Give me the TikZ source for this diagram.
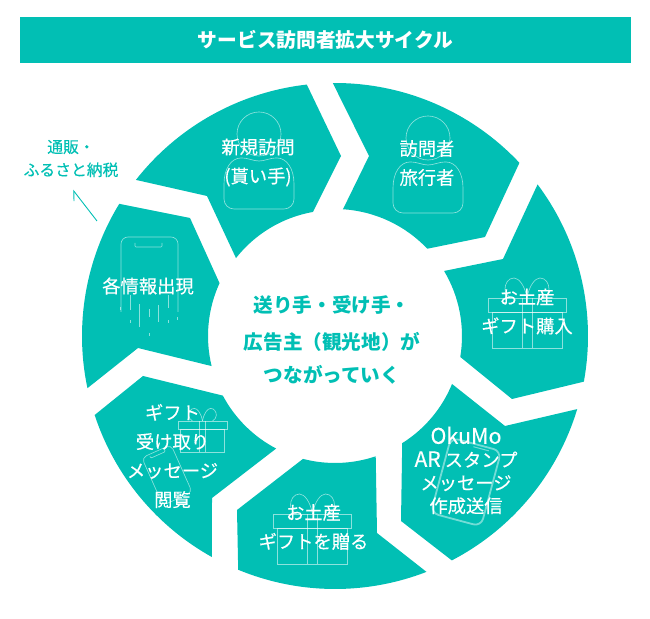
\documentclass[tikz,border=0pt]{standalone}
\usepackage{fontspec}
\usepackage{tikz}
\usetikzlibrary{arrows.meta}
\newfontfamily\jp{Noto Sans CJK JP}
\newfontfamily\jpmed[FakeBold=0.3]{Noto Sans CJK JP}
\definecolor{cycleteal}{HTML}{01BFB4}
\tikzset{
  x=1pt, y=1pt,
  seg/.style={fill=cycleteal, draw=none},
  icon/.style={draw=white, draw opacity=0.55, line width=0.65pt, fill=none},
  thickicon/.style={draw=cycleteal!55!white, line width=1.8pt, fill=none},
  seglabel/.style={text=white, align=center, inner sep=0pt, font=\jpmed\fontsize{18.3}{29}\selectfont},
  seglabeltight/.style={seglabel, font=\jpmed\fontsize{18.3}{23}\selectfont},
  centerlabel/.style={text=cycleteal, align=center, inner sep=0pt, font=\jp\bfseries\fontsize{19.6}{35}\selectfont},
  sidelabel/.style={text=cycleteal, align=center, inner sep=0pt, font=\jpmed\fontsize{15.8}{23}\selectfont},
  person/.pic={
    \draw[icon] (0,0) circle (22pt);
    \draw[icon] (-35,-65) -- (-35,-50) .. controls (-35,-35) and (-28,-24) .. (-18,-24)
      .. controls (-10,-24) and (-6,-27) .. (0,-27)
      .. controls (6,-27) and (10,-24) .. (18,-24)
      .. controls (28,-24) and (35,-35) .. (35,-50) -- (35,-65)
      arc[start angle=0, end angle=-90, radius=10pt] -- (-25,-75)
      arc[start angle=-90, end angle=-180, radius=10pt];
  },
  gift/.pic={
    \draw[icon] (-39,-14) rectangle (39,0);
    \draw[icon] (-35,-14) rectangle (35,-50);
    \draw[icon] (-5,0) -- (-5,-50) (5,0) -- (5,-50);
    \draw[icon] (0,0) .. controls (-2,12) and (-8,20) .. (-13,20)
      .. controls (-19,20) and (-22,14) .. (-22,9) .. controls (-22,5) and (-19,2) .. (-16,0);
    \draw[icon] (0,0) .. controls (2,12) and (8,20) .. (13,20)
      .. controls (19,20) and (22,14) .. (22,9) .. controls (22,5) and (19,2) .. (16,0);
  },
  phone/.pic={
    \draw[icon, rounded corners=5pt] (-16,-26) rectangle (16,26);
    \draw[icon, rounded corners=1pt] (-8,24) -- (-8,22) -- (8,22) -- (8,24);
  },
}

\begin{document}
\begin{tikzpicture}
  \useasboundingbox (0,0) rectangle (650,618);

  % header
  \node[fill=cycleteal, minimum width=611pt, minimum height=46pt, inner sep=0pt,
        text=white, font=\jp\bfseries\fontsize{19.7}{24}\selectfont]
    (title) at (325.5,578) {サービス訪問者拡大サイクル};

  % ring, coordinates from the circle centre
  \begin{scope}[shift={(335,282)}]
    \fill[seg] (141.9:253pt) arc[start angle=141.9, end angle=96.4, radius=253pt]
      -- (6,180) -- (100.1:126pt) arc[start angle=100.1, end angle=141.8, radius=126pt]
      -- (-128,140) -- cycle;
    \fill[seg] (90.5:253pt) arc[start angle=90.5, end angle=43.2, radius=253pt]
      -- (150,99) -- (43.4:127pt) arc[start angle=43.4, end angle=86.4, radius=127pt]
      -- (34,180) -- cycle;
    \fill[seg] (36.8:253pt) arc[start angle=36.8, end angle=-10.4, radius=253pt]
      -- (177,-63) -- (-9.5:127pt) arc[start angle=-9.5, end angle=30.8, radius=127pt]
      -- (168,77) -- cycle;
    \fill[seg] (-16.8:253pt) arc[start angle=-16.8, end angle=-62.5, radius=253pt]
      -- (66,-185) -- (-57.9:126.5pt) arc[start angle=-57.9, end angle=-22.3, radius=126.5pt]
      -- (170,-90) -- cycle;
    \fill[seg] (-68.8:253pt) arc[start angle=-68.8, end angle=-112.5, radius=253pt]
      -- (-98,-174) -- (-104.6:127pt) arc[start angle=-104.6, end angle=-71.3, radius=127pt]
      -- (42,-197) -- cycle;
    \fill[seg] (-119.1:253pt) arc[start angle=-119.1, end angle=-161.8, radius=253pt]
      -- (-192,-40) -- (-152:127pt) arc[start angle=-152, end angle=-117.6, radius=127pt]
      -- (-123,-162) -- cycle;
    \fill[seg] (191.9:253pt) arc[start angle=191.9, end angle=148.5, radius=253pt]
      -- (-145,118) -- (155.4:127pt) arc[start angle=155.4, end angle=193.7, radius=127pt]
      -- (-197,-12) -- cycle;
  \end{scope}

  % icons
  \pic at (259,484) {person};
  \pic at (428,480) {person};
  \pic at (527,320) {gift};
  \pic at (312.5,104) {gift};
  \pic[scale=0.63] at (202.5,197) {gift};
  \pic[rotate=24] at (167,143) {phone};
  \begin{scope}[shift={(466,136)}, rotate=-15]
    \draw[thickicon, rounded corners=8pt] (-26,-39) rectangle (26,39);
    \draw[thickicon, line width=1pt] (-2,36) -- (14,36);
  \end{scope}
  \draw[icon, rounded corners=7pt] (121,306) -- (121,381) -- (178,381) -- (178,306);
  \draw[icon, rounded corners=1pt] (135,375) -- (135,371) -- (162,371) -- (162,375);
  \draw[icon] (120,311) -- (120,308) (130,323) -- (130,308) (130,298) -- (130,295)
    (139,314) -- (139,291) (149,309) -- (149,301) (149,285) -- (149,282)
    (158,313) -- (158,296) (168,323) -- (168,310) (168,298) -- (168,295) (177,301) -- (177,298);

  % labels
  \node[seglabel] (newvisit) at (258,455.5) {新規訪問\\(貰い手)};
  \node[seglabel] (visitor) at (427,455) {訪問者\\旅行者};
  \node[seglabel] (buygift) at (527,306.5) {お土産\\ギフト購入};
  \node[seglabeltight] (okumo) at (466,147.5) {{\fontsize{21.5}{23}\selectfont OkuMo}\\{\fontsize{21}{23}\selectfont AR} スタンプ\\メッセージ\\作成送信};
  \node[seglabel] (sendgift) at (313.5,91) {お土産\\ギフトを贈る};
  \node[seglabel] (receive) at (172.5,162) {ギフト\\受け取り\\メッセージ\\閲覧};
  \node[seglabel] (info) at (148,332) {各情報出現};
  \node[centerlabel] (hub) at (332,278) {送り手・受け手・\\[2pt]広告主（観光地）が\\[-2pt]つながっていく};
  \node[sidelabel] (shop) at (71,459.5) {通販・\\ふるさと納税};

  \coordinate (arrowtail) at (97,397);
  \coordinate (arrowtip) at (73,428);
  \draw[cycleteal, line width=0.9pt, -{Straight Barb[left, length=8pt, width=12pt]}] (arrowtail) -- (arrowtip);
\end{tikzpicture}
\end{document}
